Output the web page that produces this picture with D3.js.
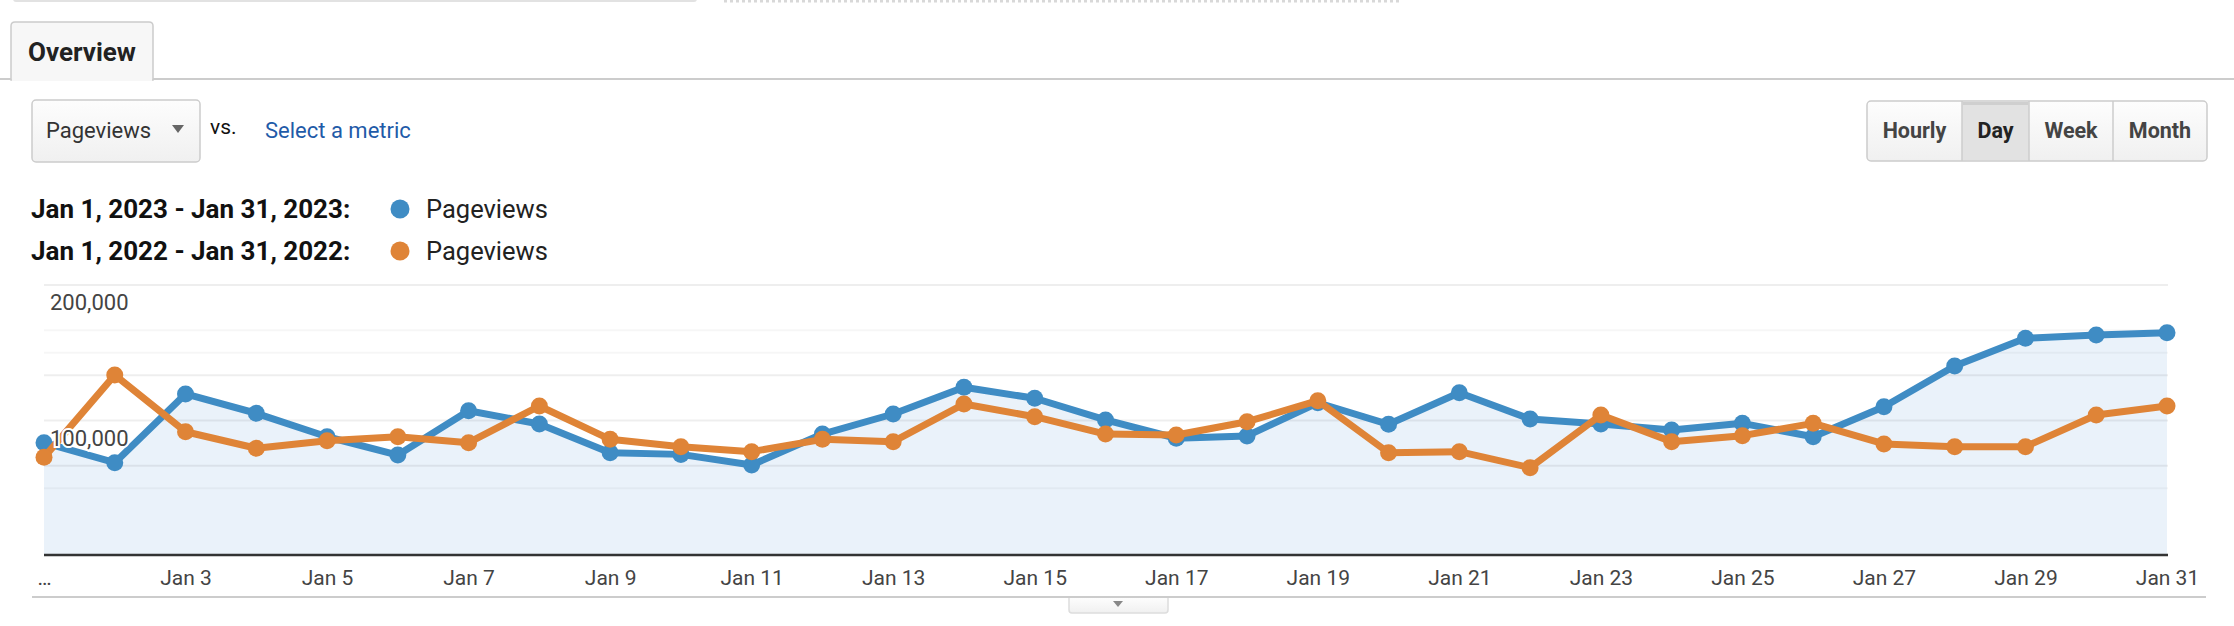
<!DOCTYPE html>
<html>
<head>
<meta charset="utf-8">
<script src="https://cdn.jsdelivr.net/npm/d3@7"></script>
<style>
  body { margin: 0; background: #fff; }
  svg { display: block; font-family: Roboto, Arial, sans-serif; }
</style>
</head>
<body>
<svg id="svg1" width="2234" height="626"></svg>
<script>
// values (pageviews per day)
var days = [1,2,3,4,5,6,7,8,9,10,11,12,13,14,15,16,17,18,19,20,21,22,23,24,25,26,27,28,29,30,31];
var views2023 = [83600, 68900, 119600, 105300, 88000, 74500, 107200, 97400, 76200, 75000, 67200,
                 90000, 104800, 124500, 116400, 100400, 86900, 88600, 113100, 97200, 120500, 101100,
                 97400, 93000, 97900, 88000, 110200, 140200, 160700, 163100, 164800];
var views2022 = [72800, 133600, 91700, 79500, 85100, 88000, 83600, 110700, 86100, 80700, 77000,
                 86100, 84400, 112200, 102800, 90000, 89300, 99100, 114600, 76200, 77000, 65200,
                 104100, 84400, 88800, 97900, 82700, 80700, 80700, 104100, 110700];
var xTickDays = [1,3,5,7,9,11,13,15,17,19,21,23,25,27,29,31];
var yTickValues = [200000, 100000];
var majorGrid = [200000, 133333, 100000, 66667];
var minorGrid = [166667, 150000, 50000];
var legendRows = [
  {range: 'Jan 1, 2023 - Jan 31, 2023:', metric: 'Pageviews', color: '#3f8cc4'},
  {range: 'Jan 1, 2022 - Jan 31, 2022:', metric: 'Pageviews', color: '#df8437'}
];
var periods = ['Hourly', 'Day', 'Week', 'Month'];

var svg = d3.select('svg');
var defs = svg.append('defs');

var btnGrad = defs.append('linearGradient').attr('id', 'btnGrad').attr('x1', 0).attr('y1', 0).attr('x2', 0).attr('y2', 1);
btnGrad.append('stop').attr('offset', '0%').attr('stop-color', '#fdfdfd');
btnGrad.append('stop').attr('offset', '100%').attr('stop-color', '#f0f0f0');

// ---- top strip ----
svg.append('rect').attr('x', 13).attr('y', -4).attr('width', 684).attr('height', 6)
  .attr('rx', 3).attr('fill', '#e2e2e2');
svg.append('line').attr('x1', 724).attr('x2', 1402).attr('y1', 1).attr('y2', 1)
  .attr('stroke', '#d8d8d8').attr('stroke-width', 3).attr('stroke-dasharray', '3,3');

// ---- tab ----
svg.append('line').attr('x1', 0).attr('x2', 2234).attr('y1', 79).attr('y2', 79)
  .attr('stroke', '#cccccc').attr('stroke-width', 2);
svg.append('path')
  .attr('d', 'M11,80 L11,26 Q11,22 15,22 L149,22 Q153,22 153,26 L153,80 Z')
  .attr('fill', '#f7f7f7').attr('stroke', '#cccccc').attr('stroke-width', 1.5);
svg.append('rect').attr('x', 12).attr('y', 77).attr('width', 140).attr('height', 4).attr('fill', '#f7f7f7');
svg.append('text').attr('x', 28).attr('y', 61).text('Overview')
  .attr('font-size', 26).attr('font-weight', 'bold').attr('fill', '#222');

// ---- metric selector ----
svg.append('rect').attr('x', 32).attr('y', 100).attr('width', 168).attr('height', 62)
  .attr('rx', 4).attr('fill', 'url(#btnGrad)').attr('stroke', '#cccccc').attr('stroke-width', 1.5);
svg.append('text').attr('x', 46).attr('y', 138).text('Pageviews')
  .attr('font-size', 22).attr('fill', '#333');
svg.append('path').attr('d', 'M172,125 L184,125 L178,133 Z').attr('fill', '#666');
svg.append('text').attr('x', 210).attr('y', 134).text('vs.')
  .attr('font-size', 21).attr('fill', '#111');
svg.append('text').attr('x', 265).attr('y', 138).text('Select a metric')
  .attr('font-size', 22).attr('fill', '#1f5ba8');

// ---- period buttons ----
var btnEdges = [1867, 1962, 2029, 2113, 2207];
svg.append('rect').attr('x', 1867).attr('y', 101).attr('width', 340).attr('height', 60)
  .attr('rx', 4).attr('fill', 'url(#btnGrad)').attr('stroke', '#cccccc').attr('stroke-width', 1.5);
svg.append('rect').attr('x', 1962).attr('y', 102).attr('width', 67).attr('height', 58)
  .attr('fill', '#e2e2e2');
svg.append('rect').attr('x', 1963).attr('y', 102).attr('width', 65).attr('height', 3)
  .attr('fill', '#cfcfcf');
periods.forEach(function(p, i) {
  if (i > 0) {
    svg.append('line').attr('x1', btnEdges[i]).attr('x2', btnEdges[i])
      .attr('y1', 101).attr('y2', 161).attr('stroke', '#cccccc').attr('stroke-width', 1.5);
  }
  svg.append('text').attr('x', (btnEdges[i] + btnEdges[i + 1]) / 2).attr('y', 138)
    .attr('text-anchor', 'middle').text(p)
    .attr('font-size', 21.5).attr('font-weight', 'bold')
    .attr('fill', p === 'Day' ? '#222' : '#444');
});

// ---- legend ----
var legend = svg.append('g').selectAll('g').data(legendRows).enter().append('g')
  .attr('transform', function(d, i) { return 'translate(0,' + (209 + i * 42) + ')'; });
legend.append('text').attr('x', 31).attr('y', 9).text(function(d) { return d.range; })
  .attr('font-size', 26).attr('font-weight', 'bold').attr('fill', '#111');
legend.append('circle').attr('cx', 400).attr('cy', 0).attr('r', 9.5)
  .attr('fill', function(d) { return d.color; });
legend.append('text').attr('x', 426).attr('y', 9).text(function(d) { return d.metric; })
  .attr('font-size', 25.5).attr('fill', '#222');

// ---- chart ----
var x = d3.scaleLinear().domain([1, 31]).range([44, 2167]);
var y = d3.scaleLinear().domain([0, 200000]).range([556, 285]);

var area = d3.area()
  .x(function(d, i) { return x(days[i]); })
  .y0(y(0))
  .y1(function(d) { return y(d); });

svg.append('path').datum(views2023).attr('d', area).attr('fill', '#eaf2fa');

svg.append('g').selectAll('line').data(majorGrid).enter().append('line')
  .attr('x1', 44).attr('x2', 2168)
  .attr('y1', function(d) { return y(d); }).attr('y2', function(d) { return y(d); })
  .attr('stroke', '#000').attr('stroke-opacity', 0.065).attr('stroke-width', 2);
svg.append('g').selectAll('line').data(minorGrid).enter().append('line')
  .attr('x1', 44).attr('x2', 2168)
  .attr('y1', function(d) { return y(d); }).attr('y2', function(d) { return y(d); })
  .attr('stroke', '#000').attr('stroke-opacity', 0.035).attr('stroke-width', 2);

// baseline
svg.append('line').attr('x1', 44).attr('x2', 2168).attr('y1', 555).attr('y2', 555)
  .attr('stroke', '#333').attr('stroke-width', 2.5);

var line = d3.line()
  .x(function(d, i) { return x(days[i]); })
  .y(function(d) { return y(d); });

[[views2023, '#3f8cc4'], [views2022, '#df8437']].forEach(function(s) {
  svg.append('path').datum(s[0]).attr('d', line)
    .attr('fill', 'none').attr('stroke', s[1]).attr('stroke-width', 7)
    .attr('stroke-linejoin', 'round');
  svg.append('g').selectAll('circle').data(s[0]).enter().append('circle')
    .attr('cx', function(d, i) { return x(days[i]); })
    .attr('cy', function(d) { return y(d); })
    .attr('r', 8.5).attr('fill', s[1]);
});

// y labels (inside the plot, below their gridline)
svg.append('g').selectAll('text').data(yTickValues).enter().append('text')
  .attr('x', 50).attr('y', function(d) { return y(d) + 25; })
  .text(function(d) { return d3.format(',')(d); })
  .attr('font-size', 22).attr('fill', '#444')
  .attr('stroke', '#fff').attr('stroke-width', 4).attr('paint-order', 'stroke');

// x axis
var xAxis = d3.axisBottom(x)
  .tickValues(xTickDays)
  .tickSize(0)
  .tickFormat(function(d) { return d === 1 ? '\u2026' : 'Jan ' + d; });
var gx = svg.append('g').attr('transform', 'translate(0,567)').call(xAxis);
gx.select('.domain').remove();
gx.selectAll('text').attr('font-family', 'Roboto, Arial, sans-serif')
  .attr('font-size', 21).attr('fill', '#444');

// ---- bottom rule and handle ----
svg.append('line').attr('x1', 32).attr('x2', 2206).attr('y1', 597).attr('y2', 597)
  .attr('stroke', '#cccccc').attr('stroke-width', 2);
svg.append('path')
  .attr('d', 'M1069,598 L1069,610 Q1069,613 1072,613 L1165,613 Q1168,613 1168,610 L1168,598')
  .attr('fill', 'url(#btnGrad)').attr('stroke', '#dddddd').attr('stroke-width', 1.5);
svg.append('path').attr('d', 'M1113,601 L1123,601 L1118,607 Z').attr('fill', '#888');
</script>
</body>
</html>
